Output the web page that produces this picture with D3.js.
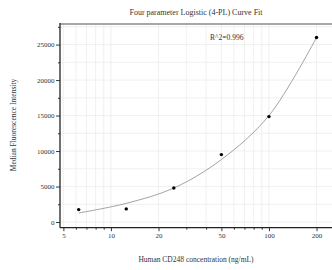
<!DOCTYPE html>
<html><head><meta charset="utf-8">
<script src="https://cdn.jsdelivr.net/npm/d3@7"></script>
<style>html,body{margin:0;padding:0;background:#fff;overflow:hidden}</style>
</head><body>
<svg id="c" width="332" height="270"></svg>
<script>
const concentrations = [6.25, 12.5, 25, 50, 100, 200];
const mfiValues = [1750, 1850, 4800, 9500, 14850, 26000];
const fitX = [6.25, 12.5, 25, 50, 100, 200];
const fitY = [1270, 2630, 4790, 8800, 15000, 26000];
const xTickMajor = [5, 10, 20, 50, 100, 200];
const xTickMinor = [6, 7, 8, 9, 30, 40, 60, 70, 80, 90];
const yTickMajor = [0, 5000, 10000, 15000, 20000, 25000];
const yTickMinor = [2500, 7500, 12500, 17500, 22500, 27500];
const title = "Four parameter Logistic (4-PL) Curve Fit";
const xLabel = "Human CD248 concentration (ng/mL)";
const yLabel = "Median Fluorescence Intensity";
const r2Label = "R^2=0.996";

const svg = d3.select("#c");
const L = 60, R = 332, T = 24, B = 227.7;
const x = d3.scaleLog().domain([4.76, 250.6]).range([L, R]);
const y = d3.scaleLinear().domain([-800, 27900]).range([B, T]);
const font = "Liberation Serif, Times New Roman, serif";

// grid
const g = svg.append("g");
g.selectAll(".vg").data(xTickMajor.concat(xTickMinor)).enter().append("line")
  .attr("x1", d => x(d)).attr("x2", d => x(d)).attr("y1", T).attr("y2", B)
  .attr("stroke", "#ececec").attr("stroke-width", 0.8);
g.selectAll(".hg").data(yTickMajor.concat(yTickMinor)).enter().append("line")
  .attr("x1", L).attr("x2", R).attr("y1", d => y(d)).attr("y2", d => y(d))
  .attr("stroke", "#ececec").attr("stroke-width", 0.8);

// top border
svg.append("line").attr("x1", L).attr("x2", R).attr("y1", T).attr("y2", T)
  .attr("stroke", "#8a8a8a").attr("stroke-width", 1.6);

// axes
const xAxis = d3.axisBottom(x).tickValues(xTickMajor).tickFormat(d3.format("d")).tickSize(3.5).tickPadding(2);
const xg = svg.append("g").attr("transform", `translate(0,${B})`).call(xAxis);
xg.select(".domain").remove();
const xMin = d3.axisBottom(x).tickValues(xTickMinor).tickFormat("").tickSize(2);
const xmg = svg.append("g").attr("transform", `translate(0,${B})`).call(xMin);
xmg.select(".domain").remove();

const yAxis = d3.axisLeft(y).tickValues(yTickMajor).tickFormat(d3.format("d")).tickSize(4).tickPadding(1.5);
const yg = svg.append("g").attr("transform", `translate(${L},0)`).call(yAxis);
yg.select(".domain").remove();
const yMin = d3.axisLeft(y).tickValues(yTickMinor).tickFormat("").tickSize(2);
const ymg = svg.append("g").attr("transform", `translate(${L},0)`).call(yMin);
ymg.select(".domain").remove();

svg.selectAll(".tick line").attr("stroke", "#222").attr("stroke-width", 0.9);
svg.selectAll(".tick text").attr("font-family", font).attr("font-size", 7).attr("fill", "#333");

svg.append("line").attr("x1", L).attr("x2", L).attr("y1", T - 1).attr("y2", B)
  .attr("stroke", "#222").attr("stroke-width", 1.3);
svg.append("line").attr("x1", L).attr("x2", R).attr("y1", B).attr("y2", B)
  .attr("stroke", "#222").attr("stroke-width", 1.3);

// fit curve
const line = d3.line().x(d => x(d[0])).y(d => y(d[1])).curve(d3.curveCatmullRom.alpha(0.5));
svg.append("path").datum(fitX.map((v, i) => [v, fitY[i]]))
  .attr("d", line).attr("fill", "none").attr("stroke", "#8c8c8c").attr("stroke-width", 0.8);

// points
svg.selectAll(".pt").data(concentrations.map((v, i) => [v, mfiValues[i]])).enter().append("circle")
  .attr("cx", d => x(d[0])).attr("cy", d => y(d[1])).attr("r", 1.7).attr("fill", "#000");

// texts
svg.append("text").attr("x", 196).attr("y", 15).attr("text-anchor", "middle")
  .attr("font-family", font).attr("font-size", 8).attr("fill", "#333").text(title);
svg.append("text").attr("x", 210).attr("y", 39.5)
  .attr("font-family", font).attr("font-size", 7.5).attr("fill", "#333").text(r2Label);
svg.append("text").attr("x", 196).attr("y", 262).attr("text-anchor", "middle")
  .attr("font-family", font).attr("font-size", 7.5).attr("fill", "#333").text(xLabel);
svg.append("text").attr("transform", "translate(15.5,125) rotate(-90)").attr("text-anchor", "middle")
  .attr("font-family", font).attr("font-size", 7.5).attr("fill", "#333").text(yLabel);
</script>
</body></html>
